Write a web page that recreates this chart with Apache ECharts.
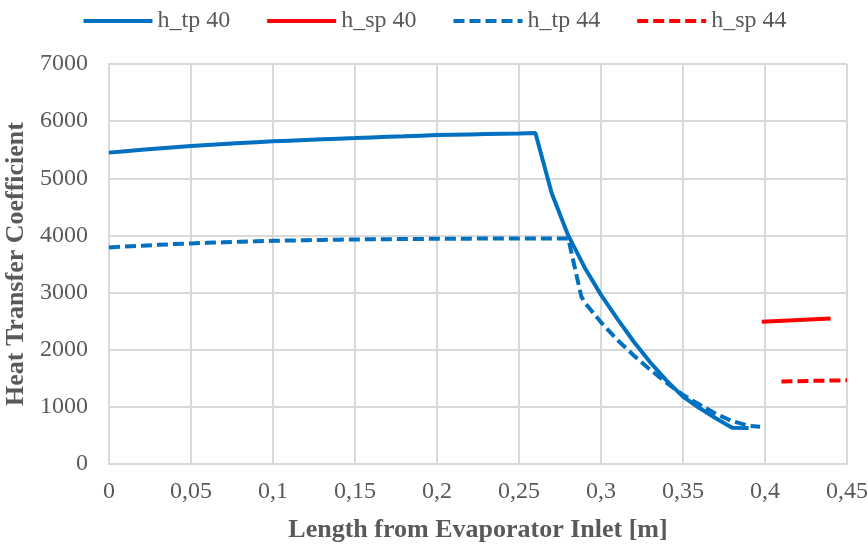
<!DOCTYPE html>
<html><head><meta charset="utf-8">
<script src="https://cdn.jsdelivr.net/npm/echarts@6/dist/echarts.min.js"></script>
<style>html,body{margin:0;padding:0;background:#fff}#c{width:868px;height:545px}</style>
</head><body><div id="c"></div>
<script>
const seriesNames = ['h_tp 40', 'h_sp 40', 'h_tp 44', 'h_sp 44'];
const xTicks = [0, 0.05, 0.1, 0.15, 0.2, 0.25, 0.3, 0.35, 0.4, 0.45];
const yTicks = [0, 1000, 2000, 3000, 4000, 5000, 6000, 7000];

const xTp40 = [0,0.01,0.02,0.03,0.04,0.05,0.06,0.07,0.08,0.09,0.1,0.11,0.12,0.13,0.14,0.15,0.16,0.17,0.18,0.19,0.2,0.21,0.22,0.23,0.24,0.25,0.26,0.27,0.28,0.29,0.3,0.31,0.32,0.33,0.34,0.35,0.36,0.37,0.38,0.39];
const yTp40 = [5449,5475,5500,5522,5544,5564,5582,5600,5616,5631,5646,5658,5670,5682,5693,5703,5714,5725,5735,5746,5756,5762,5768,5774,5780,5785,5791,4733,4000,3440,2960,2540,2140,1780,1460,1180,980,800,635,630];

const xSp40 = [0.398, 0.44];
const ySp40 = [2490, 2545];

const xTp44 = [0,0.01,0.02,0.03,0.04,0.05,0.06,0.07,0.08,0.09,0.1,0.11,0.12,0.13,0.14,0.15,0.16,0.17,0.18,0.19,0.2,0.21,0.22,0.23,0.24,0.25,0.26,0.27,0.28,0.288,0.29,0.3,0.31,0.32,0.33,0.34,0.35,0.36,0.37,0.38,0.39,0.397];
const yTp44 = [3790,3806,3821,3835,3848,3860,3870,3880,3889,3898,3906,3911,3916,3921,3926,3930,3932,3934,3937,3939,3941,3942,3944,3945,3946,3947,3948,3948,3948,2930,2830,2480,2170,1900,1650,1420,1210,1040,880,750,670,650];

const xSp44 = [0.41, 0.45];
const ySp44 = [1445, 1465];

const pair = (xs, ys) => xs.map((x, i) => [x, ys[i]]);
const FONT = "'Liberation Serif','Times New Roman',serif";
const BLUE = '#0070C0', RED = '#FF0000';
const dash = [11, 5];

const chart = echarts.init(document.getElementById('c'), null, {renderer: 'canvas'});
const mk = (name, data, color, dashed) => ({
  name, type: 'line', data, showSymbol: false, symbol: 'none', smooth: false,
  lineStyle: {color, width: 4, type: dashed ? dash : 'solid'},
  itemStyle: {color}, animation: false
});
chart.setOption({
  animation: false,
  textStyle: {fontFamily: FONT},
  legend: {
    top: 4, left: 'center', itemWidth: 69, itemHeight: 14, itemGap: 35,
    itemStyle: {opacity: 0},
    lineStyle: {width: 4},
    textStyle: {fontFamily: FONT, fontSize: 24, color: '#595959'},
    data: seriesNames
  },
  grid: {left: 109, right: 21, top: 64, bottom: 81, containLabel: false, outerBoundsMode: 'none'},
  xAxis: {
    type: 'value', min: xTicks[0], max: xTicks[xTicks.length - 1], interval: 0.05,
    name: 'Length from Evaporator Inlet [m]', nameLocation: 'middle', nameGap: 53,
    nameTextStyle: {fontFamily: FONT, fontSize: 26, fontWeight: 'bold', color: '#595959'},
    axisLine: {show: true, lineStyle: {color: '#d9d9d9', width: 2}},
    axisTick: {show: false},
    axisLabel: {fontFamily: FONT, fontSize: 24, color: '#595959', margin: 16,
      formatter: v => String(Math.round(v * 100) / 100).replace('.', ',')},
    splitLine: {show: true, lineStyle: {color: '#d9d9d9', width: 2}}
  },
  yAxis: {
    type: 'value', min: yTicks[0], max: yTicks[yTicks.length - 1], interval: 1000,
    name: 'Heat Transfer Coefficient', nameLocation: 'middle', nameGap: 76,
    nameTextStyle: {fontFamily: FONT, fontSize: 26, fontWeight: 'bold', color: '#595959'},
    axisLine: {show: true, lineStyle: {color: '#d9d9d9', width: 2}},
    axisTick: {show: false},
    axisLabel: {fontFamily: FONT, fontSize: 24, color: '#595959', margin: 21,
      formatter: v => String(v)},
    splitLine: {show: true, lineStyle: {color: '#d9d9d9', width: 2}}
  },
  series: [
    mk(seriesNames[0], pair(xTp40, yTp40), BLUE, false),
    mk(seriesNames[1], pair(xSp40, ySp40), RED, false),
    mk(seriesNames[2], pair(xTp44, yTp44), BLUE, true),
    mk(seriesNames[3], pair(xSp44, ySp44), RED, true)
  ]
});
</script></body></html>
